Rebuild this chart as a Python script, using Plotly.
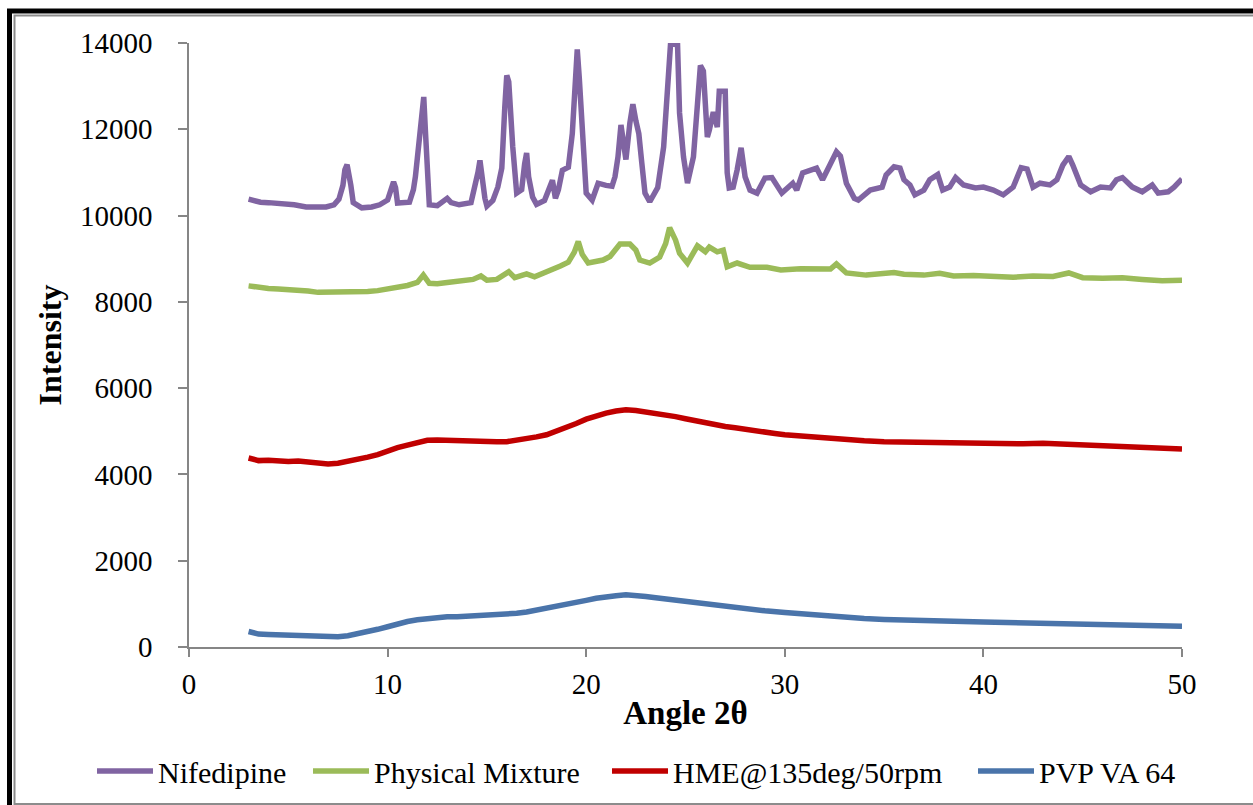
import plotly.graph_objects as go

# ---------------- data ----------------
nif_x = [3.0, 3.3, 3.6, 4.0, 4.7, 5.3, 5.9, 6.4, 6.9, 7.3, 7.55, 7.75, 7.85, 7.96, 8.05, 8.15, 8.27, 8.7, 9.2, 9.6,
         10.0, 10.2, 10.3, 10.4, 10.5, 11.1, 11.3, 11.4, 11.55, 11.7, 11.82, 11.9, 12.0, 12.1, 12.5, 13.0, 13.2, 13.6,
         14.2, 14.4, 14.55, 14.65, 14.75, 14.9, 15.0, 15.3, 15.55, 15.75, 15.9, 16.0, 16.1, 16.2, 16.3, 16.5, 16.75,
         16.9, 17.0, 17.1, 17.3, 17.5, 17.9, 18.2, 18.3, 18.45, 18.6, 18.8, 19.1, 19.3, 19.45, 19.55, 19.65, 19.8,
         20.0, 20.3, 20.6, 21.0, 21.3, 21.45, 21.6, 21.75, 21.9, 22.0, 22.2, 22.35, 22.5, 22.65, 22.8, 22.96, 23.2,
         23.6, 23.9, 24.1, 24.25, 24.6, 24.7, 24.9, 25.1, 25.4, 25.6, 25.75, 25.9, 26.0, 26.1, 26.2, 26.4, 26.6, 26.7,
         27.0, 27.1, 27.2, 27.4, 27.6, 27.8, 28.0, 28.25, 28.6, 29.0, 29.35, 29.85, 30.4, 30.6, 30.9, 31.3, 31.6,
         31.9, 32.3, 32.6, 32.8, 33.1, 33.5, 33.7, 34.3, 34.9, 35.1, 35.5, 35.8, 36.0, 36.3, 36.55, 37.0, 37.3, 37.7,
         37.95, 38.3, 38.6, 39.0, 39.6, 40.0, 40.5, 41.0, 41.5, 41.9, 42.2, 42.5, 42.85, 43.35, 43.7, 44.0, 44.3,
         44.5, 44.9, 45.4, 45.9, 46.4, 46.7, 47.0, 47.5, 48.0, 48.5, 48.8, 49.3, 49.6, 50.0]
nif_y = [10380, 10340, 10310, 10300, 10290, 10250, 10200, 10190, 10200, 10250, 10380, 10700, 11060, 11180, 11000,
         10700, 10300, 10180, 10200, 10250, 10360, 10650, 10780, 10650, 10290, 10310, 10600, 10900, 11600, 12200,
         12750, 12000, 10900, 10250, 10230, 10400, 10300, 10250, 10300, 10660, 11000, 11280, 10900, 10400, 10220,
         10350, 10660, 11100, 12500, 13250, 13100, 12200, 11600, 10520, 10600, 11200, 11450, 10900, 10430, 10260,
         10350, 10700, 10820, 10400, 10600, 11050, 11120, 11900, 13300, 13850, 13200, 12050, 10520, 10360, 10750,
         10700, 10680, 10900, 11360, 12100, 11500, 11300, 12150, 12580, 12200, 11900, 11220, 10520, 10320, 10650,
         11590, 13140, 14000, 13950, 12380, 11360, 10750, 11360, 12450, 13480, 13350, 12290, 11820, 11980, 12400,
         12050, 12880, 12880, 10990, 10640, 10660, 11060, 11570, 10900, 10590, 10520, 10870, 10880, 10520, 10750,
         10590, 10990, 11060, 11100, 10830, 11220, 11480, 11380, 10750, 10400, 10360, 10590, 10660, 10940, 11130,
         11100, 10830, 10710, 10480, 10590, 10830, 10950, 10590, 10660, 10880, 10710, 10640, 10660, 10590, 10480,
         10660, 11110, 11080, 10660, 10750, 10710, 10830, 11170, 11370, 11170, 10710, 10550, 10660, 10640, 10830,
         10880, 10660, 10550, 10710, 10520, 10550, 10660, 10850]

pm_x = [3.0, 3.5, 4.0, 4.5, 5.0, 5.5, 6.0, 6.5, 7.0, 7.5, 8.0, 8.5, 9.0, 9.5, 10.0, 10.5, 11.0, 11.5, 11.8, 12.1,
        12.5, 13.0, 13.5, 14.0, 14.3, 14.7, 15.0, 15.5, 15.9, 16.1, 16.4, 16.8, 17.0, 17.4, 17.8, 18.3, 18.7, 19.1,
        19.4, 19.6, 19.8, 20.1, 20.5, 20.85, 21.2, 21.7, 22.2, 22.5, 22.7, 23.2, 23.7, 24.0, 24.2, 24.5, 24.7, 25.1,
        25.6, 26.0, 26.2, 26.6, 26.9, 27.1, 27.6, 28.25, 29.1, 29.8, 30.8, 31.6, 32.3, 32.6, 33.1, 34.1, 35.0, 35.5,
        36.0, 37.0, 37.8, 38.5, 39.5, 40.5, 41.5, 42.5, 43.5, 44.3, 45.0, 46.0, 47.0, 48.0, 49.0, 50.0]
pm_y = [8370, 8330, 8310, 8300, 8290, 8270, 8250, 8220, 8220, 8210, 8230, 8220, 8240, 8260, 8300, 8330, 8380, 8450,
        8620, 8430, 8420, 8450, 8470, 8480, 8520, 8600, 8500, 8520, 8620, 8700, 8560, 8600, 8650, 8580, 8650, 8760,
        8830, 8920, 9150, 9400, 9100, 8900, 8950, 8970, 9050, 9340, 9340, 9200, 8970, 8900, 9040, 9350, 9720, 9430,
        9130, 8900, 9300, 9160, 9270, 9160, 9200, 8810, 8900, 8800, 8800, 8740, 8770, 8780, 8760, 8880, 8670, 8620,
        8640, 8680, 8640, 8620, 8660, 8600, 8610, 8580, 8570, 8600, 8590, 8670, 8560, 8550, 8560, 8520, 8490, 8500]

hme_x = [3.0, 3.5, 4.0, 4.5, 5.0, 5.5, 6.0, 6.5, 7.0, 7.5, 8.0, 8.5, 9.0, 9.5, 10.0, 10.5, 11.0, 11.5, 12.0, 12.5,
         13.0, 13.5, 14.0, 14.5, 15.0, 15.5, 16.0, 16.5, 17.0, 17.5, 18.0, 18.5, 19.0, 19.5, 20.0, 20.5, 21.0, 21.5,
         22.0, 22.5, 23.0, 23.5, 24.0, 24.5, 25.0, 25.5, 26.0, 26.5, 27.0, 27.5, 28.0, 28.5, 29.0, 29.5, 30.0, 31.0,
         32.0, 33.0, 34.0, 35.0, 36.0, 37.0, 38.0, 39.0, 40.0, 41.0, 42.0, 43.0, 44.0, 45.0, 46.0, 47.0, 48.0, 49.0,
         50.0]
hme_y = [4380, 4320, 4330, 4310, 4300, 4310, 4280, 4250, 4240, 4260, 4300, 4330, 4400, 4460, 4550, 4620, 4680, 4740,
         4790, 4800, 4790, 4770, 4760, 4750, 4740, 4760, 4760, 4790, 4820, 4870, 4920, 5000, 5080, 5180, 5280, 5360,
         5420, 5470, 5500, 5480, 5450, 5420, 5390, 5340, 5290, 5240, 5190, 5150, 5110, 5080, 5040, 5000, 4980, 4950,
         4920, 4880, 4840, 4810, 4780, 4760, 4750, 4740, 4740, 4730, 4720, 4710, 4710, 4720, 4700, 4690, 4680, 4660,
         4640, 4620, 4590]

pvp_x = [3.0, 3.5, 4.0, 4.5, 5.0, 5.5, 6.0, 6.5, 7.0, 7.5, 8.0, 8.5, 9.0, 9.5, 10.0, 10.5, 11.0, 11.5, 12.0, 12.5,
         13.0, 13.5, 14.0, 14.5, 15.0, 15.5, 16.0, 16.5, 17.0, 17.5, 18.0, 18.5, 19.0, 19.5, 20.0, 20.5, 21.0, 21.5,
         22.0, 22.5, 23.0, 23.5, 24.0, 24.5, 25.0, 25.5, 26.0, 27.0, 28.0, 29.0, 30.0, 31.0, 32.0, 33.0, 34.0, 35.0,
         36.0, 37.0, 38.0, 39.0, 40.0, 41.0, 42.0, 43.0, 44.0, 45.0, 46.0, 47.0, 48.0, 49.0, 50.0]
pvp_y = [360, 300, 290, 280, 280, 270, 250, 230, 220, 240, 260, 300, 350, 410, 470, 540, 590, 630, 660, 680, 700,
         700, 710, 710, 720, 730, 750, 780, 810, 850, 890, 940, 980, 1030, 1080, 1130, 1170, 1190, 1210, 1200, 1170,
         1140, 1110, 1080, 1050, 1020, 990, 940, 890, 840, 800, 760, 730, 690, 660, 640, 620, 610, 600, 590, 580, 570,
         560, 560, 550, 540, 530, 520, 500, 490, 480]

series_names = ["Nifedipine", "Physical Mixture", "HME@135deg/50rpm", "PVP VA 64"]
series_colors = ["#8064A2", "#9BBB59", "#C00000", "#4A74AA"]
x_ticks = [0, 10, 20, 30, 40, 50]
y_ticks = [0, 2000, 4000, 6000, 8000, 10000, 12000, 14000]

# ---------------- figure ----------------
W, H = 1253, 805
L, R, T, B = 189, 71, 43, 158
pw, ph = W - L - R, H - T - B


def px2x(px):
    return (px - L) / pw


def py2y(py):
    return (H - B - py) / ph


FONT = "Liberation Serif"
fig = go.Figure()
data = [(nif_x, nif_y), (pm_x, pm_y), (hme_x, hme_y), (pvp_x, pvp_y)]
legend_ids = ["legend", "legend2", "legend3", "legend4"]
for (xs, ys), name, col, lg in zip(data, series_names, series_colors, legend_ids):
    fig.add_trace(go.Scatter(x=xs, y=ys, mode="lines", name=name,
                             line=dict(color=col, width=5.5, shape="linear"),
                             legend=lg))

axis_gray = "#868686"
fig.update_xaxes(range=[0, 50], tickvals=x_ticks, ticktext=[str(v) for v in x_ticks],
                 showgrid=False, zeroline=False,
                 showline=True, linecolor=axis_gray, linewidth=1.5,
                 ticks="outside", ticklen=8, tickcolor=axis_gray, tickwidth=1.5,
                 tickfont=dict(family=FONT, size=29, color="black"), ticklabelstandoff=2,
                 title=dict(text="<b>Angle 2θ</b>", font=dict(family=FONT, size=33, color="black"), standoff=2))
fig.update_yaxes(range=[0, 14000], tickvals=y_ticks, ticktext=[str(v) for v in y_ticks],
                 showgrid=False, zeroline=False,
                 showline=True, linecolor=axis_gray, linewidth=1.5,
                 ticks="outside", ticklen=9, tickcolor=axis_gray, tickwidth=1.5,
                 tickfont=dict(family=FONT, size=29, color="black"), ticklabelstandoff=20,
                 title=dict(text="<b>Intensity</b>", font=dict(family=FONT, size=32, color="black"), standoff=9))

legend_px = [92, 308, 607, 973]
lay = {}
for lg, p in zip(legend_ids, legend_px):
    lay[lg] = dict(x=px2x(p), y=py2y(771), xanchor="left", yanchor="middle",
                   orientation="h", bgcolor="rgba(0,0,0,0)", borderwidth=0,
                   font=dict(family=FONT, size=30, color="black"), itemwidth=56)

fig.update_layout(width=W, height=H, margin=dict(l=L, r=R, t=T, b=B, autoexpand=False),
                  paper_bgcolor="white", plot_bgcolor="white", showlegend=True, **lay)

# frame around the whole chart (black outer band + thin gray inner line)
fig.add_shape(type="rect", xref="paper", yref="paper",
              x0=px2x(9.5), x1=px2x(1265), y0=py2y(820), y1=py2y(11),
              line=dict(color="black", width=5), fillcolor="rgba(0,0,0,0)")
fig.add_shape(type="rect", xref="paper", yref="paper",
              x0=px2x(14.5), x1=px2x(1262), y0=py2y(804), y1=py2y(15.5),
              line=dict(color="#8C8C8C", width=2), fillcolor="rgba(0,0,0,0)")

fig.write_html("out.html")
